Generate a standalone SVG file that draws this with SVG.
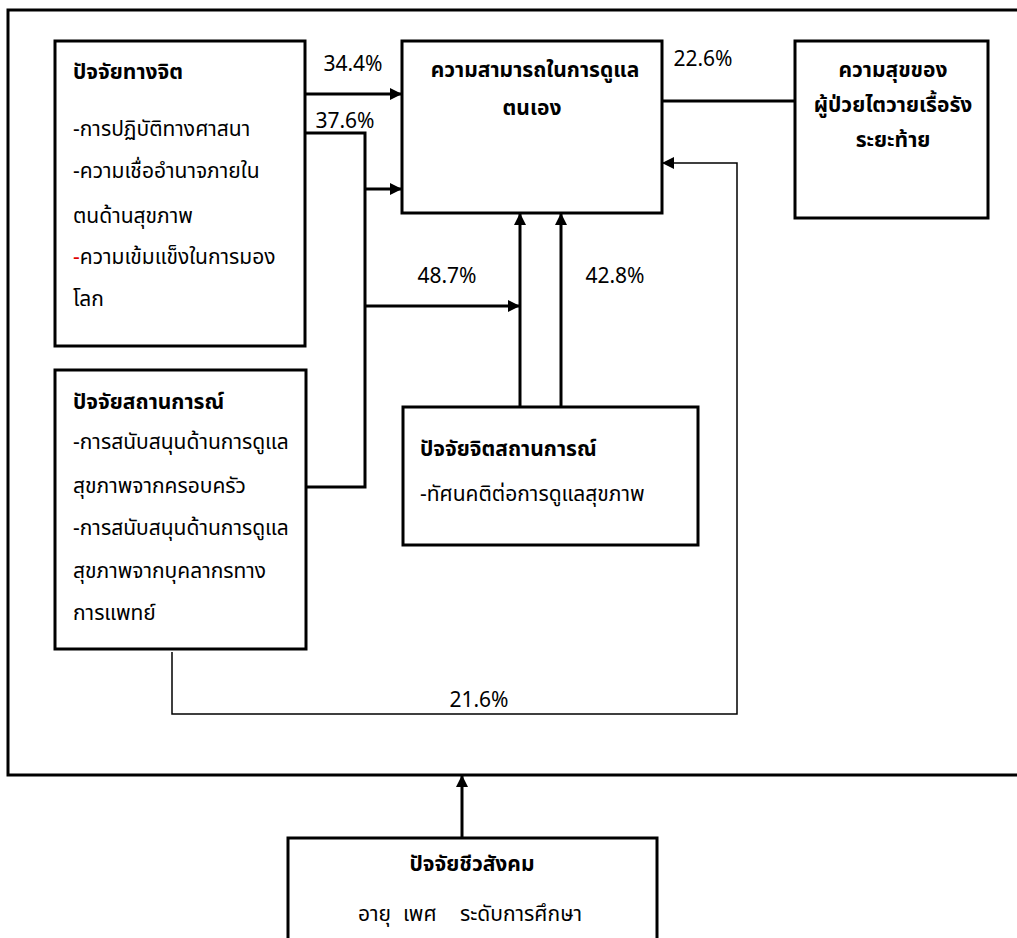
<svg xmlns="http://www.w3.org/2000/svg" width="1017" height="938" viewBox="0 0 1017 938">
<defs>
<style>
.box{fill:#fff;stroke:#000;stroke-width:3}
.ln{fill:none;stroke:#000;stroke-width:3}
.thin{fill:none;stroke:#000;stroke-width:1.5}
text{font-family:"Tahoma","Noto Sans Thai","DejaVu Sans","Liberation Sans",sans-serif;font-size:21px;fill:#000}
.b{font-weight:bold}
.m{text-anchor:middle}
</style>
<marker id="ah" viewBox="0 0 10 10" refX="10" refY="5" markerWidth="4.5" markerHeight="4" orient="auto" markerUnits="strokeWidth">
<path d="M0,0 L10,5 L0,10 z" fill="#000"/>
</marker>
<marker id="ahs" viewBox="0 0 10 10" refX="10" refY="5" markerWidth="9" markerHeight="8" orient="auto" markerUnits="strokeWidth">
<path d="M0,0 L10,5 L0,10 z" fill="#000"/>
</marker>
</defs>
<rect x="8" y="10" width="1030" height="765" fill="#fff" stroke="#000" stroke-width="3"/>
<g id="connectors">
<path class="ln" d="M305,94 L402,94" marker-end="url(#ah)"/>
<path class="ln" d="M305,133 L365,133 L365,487 L305,487"/>
<path class="ln" d="M365,189 L402,189" marker-end="url(#ah)"/>
<path class="ln" d="M365,306 L520,306" marker-end="url(#ah)"/>
<path class="ln" d="M520,407 L520,213" marker-end="url(#ah)"/>
<path class="ln" d="M561,407 L561,213" marker-end="url(#ah)"/>
<path class="ln" d="M662,101 L795,101"/>
<path class="thin" d="M172,652 L172,714 L737,714 L737,163 L662,163" marker-end="url(#ahs)"/>
<path class="ln" d="M462,838 L462,775" marker-end="url(#ah)"/>
<text x="353" y="71" class="m">34.4%</text>
<text x="345" y="128" class="m">37.6%</text>
<text x="447" y="283" class="m">48.7%</text>
<text x="615" y="283" class="m">42.8%</text>
<text x="703" y="66" class="m">22.6%</text>
<text x="479" y="707" class="m">21.6%</text>
</g>
<g id="psych">
<rect class="box" x="55" y="41" width="250" height="305"/>
<text x="73" y="79" class="b">ปัจจัยทางจิต</text>
<text x="73" y="136">-การปฏิบัติทางศาสนา</text>
<text x="73" y="178">-ความเชื่ออำนาจภายใน</text>
<text x="73" y="223">ตนด้านสุขภาพ</text>
<text x="73" y="264"><tspan fill="#e00000">-</tspan>ความเข้มแข็งในการมอง</text>
<text x="73" y="306">โลก</text>
</g>
<g id="selfcare">
<rect class="box" x="402" y="41" width="260" height="172"/>
<text x="535" y="77" class="b m">ความสามารถในการดูแล</text>
<text x="532" y="115" class="b m">ตนเอง</text>
</g>
<g id="happiness">
<rect class="box" x="795" y="41" width="193" height="177"/>
<text x="893" y="77" class="b m">ความสุขของ</text>
<text x="893" y="112" class="b m">ผู้ป่วยไตวายเรื้อรัง</text>
<text x="893" y="147" class="b m">ระยะท้าย</text>
</g>
<g id="situation">
<rect class="box" x="55" y="370" width="251" height="279"/>
<text x="73" y="409" class="b">ปัจจัยสถานการณ์</text>
<text x="73" y="449">-การสนับสนุนด้านการดูแล</text>
<text x="73" y="493">สุขภาพจากครอบครัว</text>
<text x="73" y="535">-การสนับสนุนด้านการดูแล</text>
<text x="73" y="578">สุขภาพจากบุคลากรทาง</text>
<text x="73" y="620">การแพทย์</text>
</g>
<g id="psychsituation">
<rect class="box" x="403" y="407" width="295" height="138"/>
<text x="420" y="456" class="b">ปัจจัยจิตสถานการณ์</text>
<text x="420" y="501">-ทัศนคติต่อการดูแลสุขภาพ</text>
</g>
<g id="biosocial">
<rect class="box" x="288" y="838" width="369" height="120"/>
<text x="472" y="871" class="b m">ปัจจัยชีวสังคม</text>
<text y="921"><tspan x="358">อายุ</tspan><tspan x="403">เพศ</tspan><tspan x="460">ระดับการศึกษา</tspan></text>
</g>
</svg>
